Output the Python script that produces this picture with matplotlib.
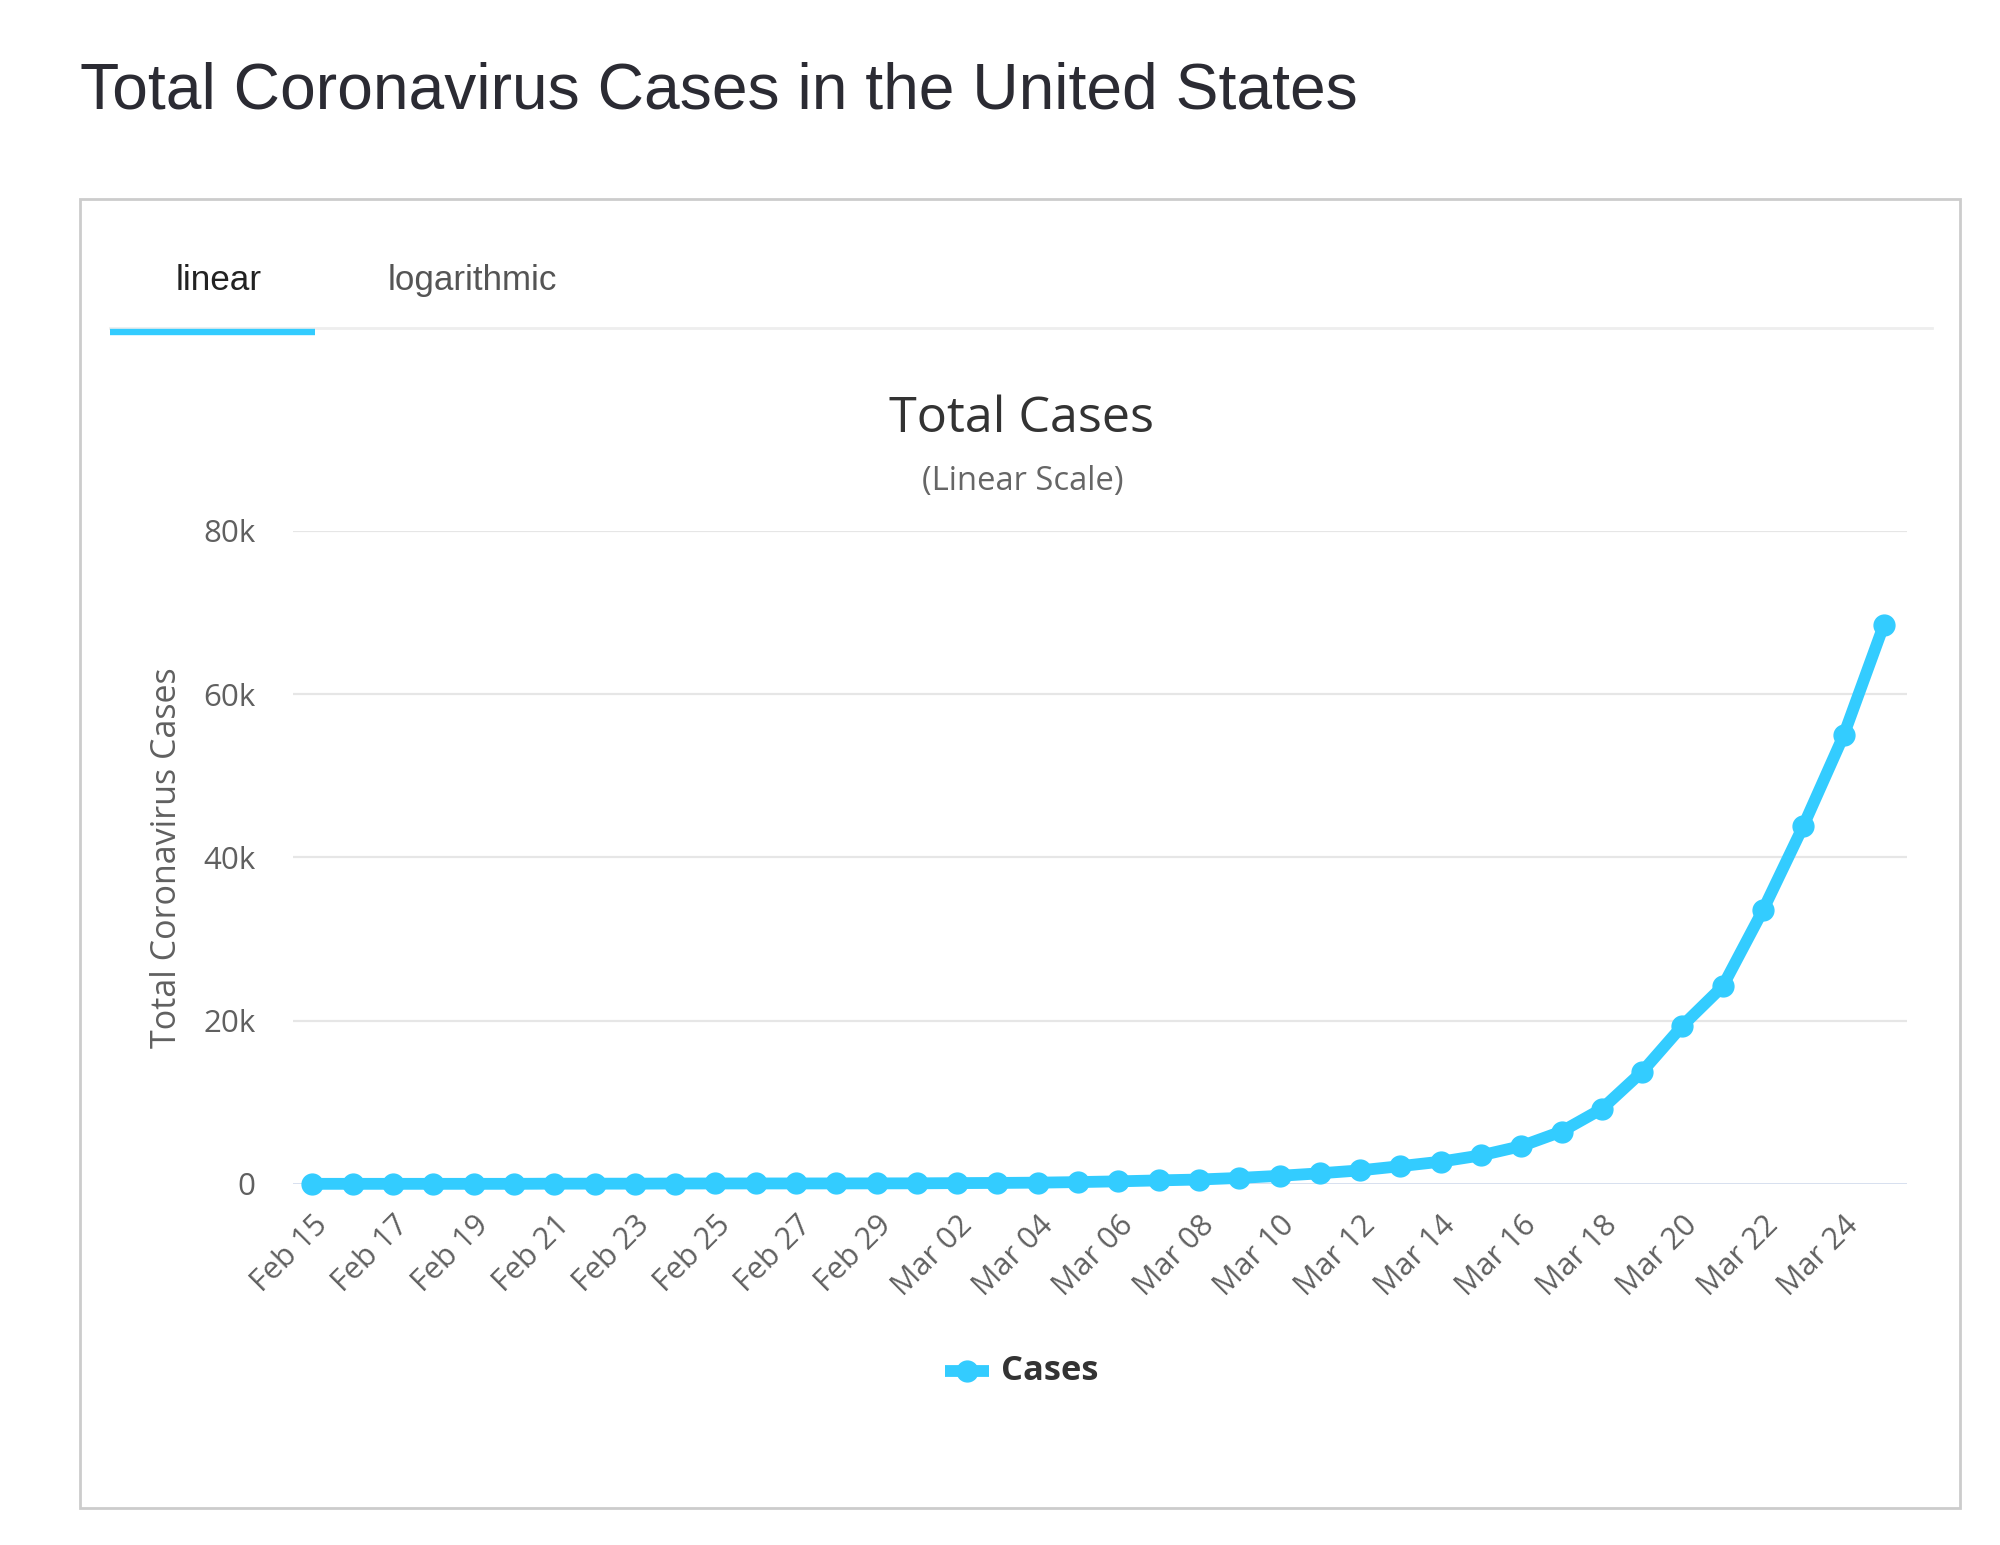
import matplotlib
matplotlib.use("Agg")
import matplotlib.pyplot as plt
from matplotlib.lines import Line2D
from matplotlib.patches import Rectangle

dates = ["Feb 15", "Feb 16", "Feb 17", "Feb 18", "Feb 19", "Feb 20", "Feb 21", "Feb 22",
         "Feb 23", "Feb 24", "Feb 25", "Feb 26", "Feb 27", "Feb 28", "Feb 29",
         "Mar 01", "Mar 02", "Mar 03", "Mar 04", "Mar 05", "Mar 06", "Mar 07", "Mar 08",
         "Mar 09", "Mar 10", "Mar 11", "Mar 12", "Mar 13", "Mar 14", "Mar 15", "Mar 16",
         "Mar 17", "Mar 18", "Mar 19", "Mar 20", "Mar 21", "Mar 22", "Mar 23", "Mar 24",
         "Mar 25"]
cases = [15, 15, 15, 15, 15, 15, 35, 35, 35, 53, 57, 60, 60, 63, 69,
         75, 103, 124, 159, 227, 320, 435, 541, 738, 994, 1301, 1663, 2179, 2727,
         3499, 4632, 6421, 9197, 13747, 19383, 24207, 33546, 43847, 54935, 68489]
y_ticks = [0, 20000, 40000, 60000, 80000]
y_tick_labels = ["0", "20k", "40k", "60k", "80k"]

BLUE = "#33ccff"
W, H = 1568.0, 1211.0
fx = lambda x: x / W
fy = lambda y: 1 - y / H

fig = plt.figure(figsize=(20, 15.45), dpi=100)
fig.patch.set_facecolor("white")

# page title
fig.text(fx(63), fy(85), "Total Coronavirus Cases in the United States",
         family="Liberation Sans", fontsize=46.2, color="#2b2b33", va="baseline", ha="left")

# outer box
fig.patches.append(Rectangle((fx(63), fy(1182)), fx(1537) - fx(63), fy(156) - fy(1182),
                             transform=fig.transFigure, fill=False, edgecolor="#cccccc",
                             linewidth=2.0))

# tabs
fig.text(fx(171.5), fy(227), "linear", family="Liberation Sans", fontsize=25.3,
         color="#222222", ha="center", va="baseline")
fig.text(fx(370), fy(227), "logarithmic", family="Liberation Sans", fontsize=25.2,
         color="#555555", ha="center", va="baseline")
fig.lines.append(Line2D([fx(86), fx(1515)], [fy(257), fy(257)], transform=fig.transFigure,
                        color="#eeeeee", linewidth=2))
fig.lines.append(Line2D([fx(86), fx(247)], [fy(260.5), fy(260.5)], transform=fig.transFigure,
                        color=BLUE, linewidth=4.6, solid_capstyle="butt"))

# chart titles
fig.text(fx(801), fy(339), "Total Cases", family="Open Sans", fontsize=36.2,
         color="#333333", ha="center", va="baseline")
fig.text(fx(802), fy(384), "(Linear Scale)", family="Open Sans", fontsize=23.6,
         color="#666666", ha="center", va="baseline")

# plot axes
ax = fig.add_axes([fx(230), fy(928), fx(1495) - fx(230), fy(416) - fy(928)])
x = list(range(len(dates)))
ax.set_xlim(-(245 - 230) / 31.59, len(dates) - 1 + (1495 - 1477) / 31.59)
ax.set_ylim(0, 80000)
for yt in y_ticks[1:]:
    ax.axhline(yt, color="#e6e6e6", linewidth=1.6, zorder=0)
ax.axhline(0, color="#ccd6eb", linewidth=1.8, zorder=1)
ax.plot(x, cases, color=BLUE, linewidth=8.5, marker="o", markersize=15,
        solid_joinstyle="round", zorder=3, clip_on=False, label="Cases")

for s in ax.spines.values():
    s.set_visible(False)
ax.set_yticks(y_ticks)
ax.set_yticklabels(y_tick_labels, family="Open Sans", fontsize=22.5, color="#606060")
ax.set_xticks(x[::2])
ax.set_xticklabels(dates[::2], family="Open Sans", fontsize=22, color="#606060",
                   rotation=45, ha="right", rotation_mode="anchor")
ax.tick_params(axis="y", length=0, pad=27)
ax.tick_params(axis="x", length=0, pad=19)
ax.set_ylabel("Total Coronavirus Cases", family="Open Sans", fontsize=24.5, color="#606060")
ax.yaxis.set_label_coords((fx(144) - fx(230)) / (fx(1495) - fx(230)),
                          (fy(672) - fy(928)) / (fy(416) - fy(928)))

# legend (manual, in figure coords)
fig.lines.append(Line2D([fx(741), fx(775)], [fy(1075), fy(1075)], transform=fig.transFigure,
                        color=BLUE, linewidth=8.5, solid_capstyle="butt"))
fig.lines.append(Line2D([fx(758)], [fy(1075)], transform=fig.transFigure, color=BLUE,
                        marker="o", markersize=15))
fig.text(fx(785), fy(1075), "Cases", family="Open Sans", fontsize=24.8, fontweight="bold",
         color="#333333", ha="left", va="center")

fig.savefig("out.png", dpi=100, facecolor="white")
